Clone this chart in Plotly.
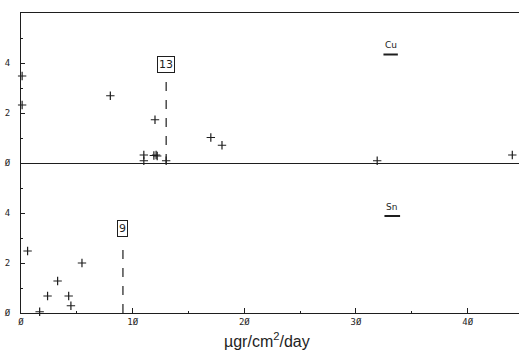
import plotly.graph_objects as go

# Cu panel data (top)
cu_x = [0.1, 0.1, 8.0, 12.0, 11.0, 11.0, 11.9, 12.1, 12.2, 13.0, 17.0, 18.0, 31.9, 44.0]
cu_y = [3.48, 2.32, 2.69, 1.73, 0.32, 0.09, 0.30, 0.32, 0.28, 0.09, 1.02, 0.71, 0.09, 0.32]
cu_marker_x = 13.0
cu_marker_top = 3.4
cu_box_y = 3.6
cu_box_label = "13"

# Sn panel data (bottom)
sn_x = [0.59, 1.67, 2.38, 3.28, 4.27, 4.47, 5.46]
sn_y = [2.48, 0.05, 0.68, 1.28, 0.68, 0.29, 2.0]
sn_marker_x = 9.13
sn_marker_top = 2.85
sn_box_y = 3.05
sn_box_label = "9"

x_tickvals = [0, 10, 20, 30, 40]
x_ticktext = ["Ø", "1Ø", "2Ø", "3Ø", "4Ø"]
y_tickvals = [0, 2, 4]
y_ticktext = ["Ø", "2", "4"]

INK = "#1e1e1e"
TICKFONT = dict(family="DejaVu Sans Mono", size=9, color=INK)
MARK = dict(symbol="cross-thin", size=6, line=dict(width=1.2, color=INK))

fig = go.Figure()
fig.add_trace(go.Scatter(x=cu_x, y=cu_y, mode="markers", xaxis="x", yaxis="y",
                         marker=MARK, cliponaxis=False, showlegend=False, hoverinfo="skip"))
fig.add_trace(go.Scatter(x=sn_x, y=sn_y, mode="markers", xaxis="x2", yaxis="y2",
                         marker=MARK, cliponaxis=False, showlegend=False, hoverinfo="skip"))

xr = [0, 44.6]
common_y = dict(range=[0, 6], showline=True, linecolor=INK, linewidth=1, showgrid=False, zeroline=False,
                tickmode="array", tickvals=y_tickvals, ticktext=y_ticktext, ticks="inside", ticklen=4,
                tickcolor=INK, tickfont=TICKFONT, ticklabelstandoff=8, automargin=False,
                minor=dict(ticks="inside", ticklen=2, dtick=1, tick0=0, tickcolor=INK))

fig.update_layout(
    width=519, height=351,
    margin=dict(l=21, r=0, t=13, b=38),
    paper_bgcolor="white", plot_bgcolor="white",
    xaxis=dict(domain=[0, 1], anchor="y", range=xr, showline=True, mirror=True, linecolor=INK,
               linewidth=1, showgrid=False, zeroline=False, ticks="", showticklabels=False,
               automargin=False),
    yaxis=dict(domain=[0.5, 1], anchor="x", **common_y),
    xaxis2=dict(domain=[0, 1], anchor="y2", range=xr, showline=True, linecolor=INK, linewidth=1,
                showgrid=False, zeroline=False, tickmode="array", tickvals=x_tickvals,
                ticktext=x_ticktext, ticks="inside", ticklen=5, tickcolor=INK, tickfont=TICKFONT,
                automargin=False,
                minor=dict(ticks="inside", ticklen=2, dtick=5, tick0=0, tickcolor=INK)),
    yaxis2=dict(domain=[0, 0.5], anchor="x2", **common_y),
)

# dashed markers
fig.add_shape(type="line", xref="x", yref="y", x0=cu_marker_x, x1=cu_marker_x, y0=0, y1=cu_marker_top,
              line=dict(color=INK, width=1.2, dash="dash"))
fig.add_shape(type="line", xref="x2", yref="y2", x0=sn_marker_x, x1=sn_marker_x, y0=0, y1=sn_marker_top,
              line=dict(color=INK, width=1.2, dash="dash"))

fig.add_annotation(x=cu_marker_x, y=cu_box_y, xref="x", yref="y", text=cu_box_label, showarrow=False,
                   yanchor="bottom", font=dict(family="DejaVu Sans", size=11, color=INK),
                   bordercolor=INK, borderwidth=1, borderpad=1, bgcolor="white")
fig.add_annotation(x=sn_marker_x, y=sn_box_y, xref="x2", yref="y2", text=sn_box_label, showarrow=False,
                   yanchor="bottom", font=dict(family="DejaVu Sans", size=11, color=INK),
                   bordercolor=INK, borderwidth=1, borderpad=1, bgcolor="white")

# legend-like labels
fig.add_annotation(x=33.1, y=4.74, xref="x", yref="y", text="Cu", showarrow=False,
                   font=dict(family="DejaVu Sans", size=9, color=INK))
fig.add_shape(type="line", xref="x", yref="y", x0=32.46, x1=33.75, y0=4.34, y1=4.34, line=dict(color=INK, width=2))
fig.add_annotation(x=33.2, y=4.23, xref="x2", yref="y2", text="Sn", showarrow=False,
                   font=dict(family="DejaVu Sans", size=9, color=INK))
fig.add_shape(type="line", xref="x2", yref="y2", x0=32.55, x1=33.95, y0=3.88, y1=3.88, line=dict(color=INK, width=2))

fig.add_annotation(x=0.494, y=-0.09, xref="paper", yref="paper", text="µgr/cm<sup>2</sup>/day",
                   showarrow=False, yanchor="middle",
                   font=dict(family="Liberation Sans", size=16, color=INK))

fig.write_html("out.html", config={"displayModeBar": False},
               post_script="document.body.style.margin='0px';")
